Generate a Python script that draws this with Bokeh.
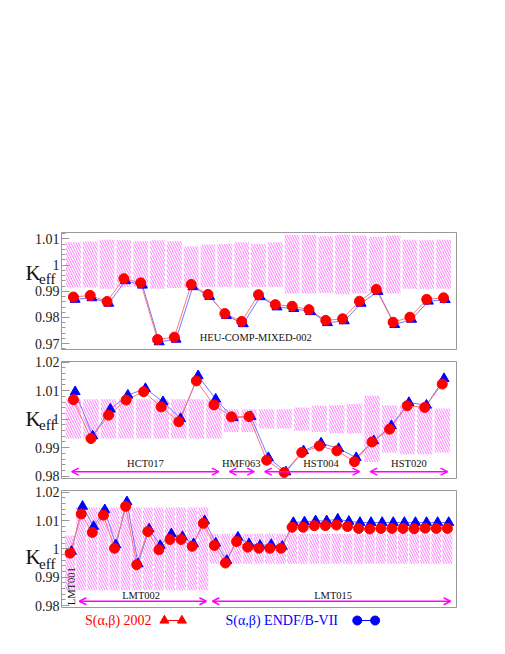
import numpy as np
from bokeh.plotting import figure
from bokeh.layouts import column
from bokeh.models import (Range1d, FixedTicker, NumeralTickFormatter, Label, Arrow, OpenHead)
from bokeh.core.properties import value
from bokeh.embed import file_html
from bokeh.resources import INLINE

SERIF = "Liberation Serif"
MAG = "#ff00ff"
RED = "#ff0000"
BLUE = "#0000ff"

# ---------------- Panel 1: HEU-COMP-MIXED-002 ----------------
p1_idx = list(range(1, 24))
p1_red = [0.9878, 0.9884, 0.9861, 0.9948, 0.9932, 0.9716, 0.9725, 0.9926, 0.9888, 0.9815,
          0.9785, 0.9887, 0.9849, 0.9843, 0.9830, 0.9789, 0.9795, 0.9862, 0.9907, 0.9782,
          0.9801, 0.9869, 0.9875]
p1_blue = [0.9869, 0.9875, 0.9854, 0.9940, 0.9923, 0.9707, 0.9717, 0.9917, 0.9880, 0.9807,
           0.9776, 0.9879, 0.9840, 0.9834, 0.9822, 0.9780, 0.9787, 0.9854, 0.9899, 0.9773,
           0.9793, 0.9862, 0.9868]
p1_unc_top = [1.0087, 1.0090, 1.0096, 1.0094, 1.0091, 1.0094, 1.0091, 1.0071, 1.0078, 1.0080,
              1.0087, 1.0080, 1.0087, 1.0115, 1.0115, 1.0110, 1.0115, 1.0113, 1.0108, 1.0113,
              1.0096, 1.0094, 1.0096]
p1_unc_bot = [0.9914, 0.9914, 0.9910, 0.9916, 0.9916, 0.9910, 0.9912, 0.9914, 0.9916, 0.9916,
              0.9914, 0.9916, 0.9916, 0.9891, 0.9891, 0.9893, 0.9889, 0.9891, 0.9891, 0.9891,
              0.9910, 0.9910, 0.9910]
p1_yticks = [0.97, 0.98, 0.99, 1.00, 1.01]
p1_group = ["HEU-COMP-MIXED-002"]
p1_group_x = [11.84]
p1_group_y = [0.9723]

# ---------------- Panel 2: HCT017 / HMF063 / HST004 / HST020 ----------------
p2_idx = list(range(1, 23))
p2_red = [1.0068, 0.9932, 1.0014, 1.0067, 1.0096, 1.0043, 0.9991, 1.0134, 1.0050, 1.0008,
          1.0009, 0.9856, 0.9813, 0.9883, 0.9906, 0.9889, 0.9851, 0.9920, 0.9965, 1.0047,
          1.0041, 1.0123]
p2_blue = [1.0096, 0.9941, 1.0035, 1.0084, 1.0107, 1.0061, 1.0002, 1.0152, 1.0070, 1.0005,
           1.0009, 0.9865, 0.9815, 0.9889, 0.9916, 0.9897, 0.9865, 0.9924, 0.9977, 1.0058,
           1.0049, 1.0142]
p2_unc_top = [1.0070] * 9 + [1.0035, 1.0035, 1.0035, 1.0035, 1.0041, 1.0047, 1.0049, 1.0053,
                             1.0082, 1.0049, 1.0047, 1.0047, 1.0037]
p2_unc_bot = [0.9932] * 9 + [0.9955, 0.9955, 0.9967, 0.9967, 0.9959, 0.9955, 0.9951, 0.9951,
                             0.9850, 0.9883, 0.9877, 0.9877, 0.9883]
p2_yticks = [0.98, 0.99, 1.00, 1.01, 1.02]
p2_group = ["HCT017", "HMF063", "HST004", "HST020"]
p2_group_x = [5.1, 10.55, 15.1, 20.1]
p2_group_y = [0.9846] * 4
p2_arrow_start = [0.90, 9.88, 11.89, 17.90]
p2_arrow_end = [9.28, 11.29, 17.29, 22.30]
p2_arrow_y = 0.9816

# ---------------- Panel 3: LMT001 / LMT002 / LMT015 ----------------
p3_idx = list(range(1, 36))
p3_red = [0.9985, 1.0123, 1.0058, 1.0119, 1.0002, 1.0150, 0.9944, 1.0061, 0.9997, 1.0033,
          1.0033, 1.0009, 1.0090, 1.0012, 0.9950, 1.0026, 1.0006, 1.0002, 1.0002, 1.0002,
          1.0076, 1.0076, 1.0082, 1.0082, 1.0084, 1.0079, 1.0072, 1.0070, 1.0072, 1.0072,
          1.0072, 1.0071, 1.0073, 1.0072, 1.0072]
p3_blue = [0.9991, 1.0150, 1.0079, 1.0138, 1.0014, 1.0166, 0.9947, 1.0070, 1.0012, 1.0053,
           1.0043, 1.0018, 1.0099, 1.0020, 0.9959, 1.0041, 1.0018, 1.0012, 1.0015, 1.0009,
           1.0093, 1.0095, 1.0099, 1.0099, 1.0105, 1.0097, 1.0093, 1.0093, 1.0093, 1.0093,
           1.0093, 1.0093, 1.0093, 1.0093, 1.0093]
p3_unc_top = [1.0047] + [1.0146] * 12 + [1.0053] * 22
p3_unc_bot = [0.9854] + [0.9854] * 12 + [0.9947] * 22
p3_yticks = [0.98, 0.99, 1.00, 1.01, 1.02]
p3_group = ["LMT002", "LMT015"]
p3_group_x = [7.4, 24.7]
p3_group_y = [0.9836, 0.9836]
p3_arrow_start = [1.83, 13.82]
p3_arrow_end = [13.28, 35.29]
p3_arrow_y = 0.9815
p3_vgroup = ["LMT001"]
p3_vgroup_x = [1.1]
p3_vgroup_y = [0.9868]

legend_red = "S(\u03b1,\u03b2) 2002"
legend_blue = "S(\u03b1,\u03b2) ENDF/B-VII"

W = 490
BL = 58
BR = W - 456


def make_panel(xr, yr, yticks, height, top, bottom, idx, red, blue, utop, ubot, bw,
               k_off, eff_off, blue_shift):
    p = figure(width=W, height=height, x_range=Range1d(*xr), y_range=Range1d(*yr),
               output_backend="svg", toolbar_location=None, x_axis_location=None,
               min_border_left=BL, min_border_right=BR,
               min_border_top=top, min_border_bottom=bottom)
    p.xgrid.visible = False
    p.ygrid.visible = False
    p.outline_line_color = "#999999"
    p.background_fill_color = "white"
    p.border_fill_color = "white"

    minor = [round(v, 4) for v in np.arange(0.96, 1.03, 0.002)]
    p.yaxis.ticker = FixedTicker(ticks=yticks, minor_ticks=minor)
    p.yaxis.formatter = NumeralTickFormatter(format="0.[00]")
    p.yaxis.major_label_text_font = SERIF
    p.yaxis.major_label_text_font_size = "14px"
    p.yaxis.major_label_text_color = "#222222"
    p.yaxis.major_label_standoff = 2
    p.yaxis.axis_line_color = None
    p.yaxis.major_tick_in = 8
    p.yaxis.major_tick_out = 0
    p.yaxis.minor_tick_in = 4
    p.yaxis.minor_tick_out = 0
    p.yaxis.major_tick_line_color = "#999999"
    p.yaxis.minor_tick_line_color = "#999999"

    bx = [i + blue_shift for i in idx]
    p.vbar(x=idx, top=utop, bottom=ubot, width=bw, fill_alpha=0, line_alpha=0,
           hatch_pattern="\\", hatch_color="#ff33ff", hatch_scale=5, hatch_weight=1,
           hatch_alpha=0.65)
    p.line(bx, blue, line_color="#7777ff", line_width=1)
    p.line(idx, red, line_color="#ff7777", line_width=1)
    p.scatter(bx, blue, marker="triangle", size=10, fill_color=BLUE, line_color=BLUE)
    p.scatter(idx, red, marker="circle", size=10, fill_color=RED, line_color=RED)

    p.add_layout(Label(x=xr[0], y=1.0, x_offset=-36, y_offset=k_off, text="K",
                       text_font=SERIF, text_font_size="21px", text_color="#111111",
                       text_baseline="alphabetic"), "left")
    p.add_layout(Label(x=xr[0], y=1.0, x_offset=-22.5, y_offset=eff_off, text="eff",
                       text_font=SERIF, text_font_size="15px", text_color="#111111",
                       text_baseline="alphabetic"), "left")
    return p


def add_groups(p, names, gx, gy):
    p.text(x=gx, y=gy, text=names, text_font=value(SERIF), text_font_size="10.5px",
           text_align="center", text_baseline="middle", text_color="#111111")


def add_arrows(p, xs, xe, y):
    for a, b in zip(xs, xe):
        p.add_layout(Arrow(start=OpenHead(size=7, line_color=MAG, line_width=1.5),
                           end=OpenHead(size=7, line_color=MAG, line_width=1.5),
                           x_start=a, y_start=y, x_end=b, y_end=y,
                           line_color=MAG, line_width=1.5))


p1 = make_panel((0.292, 23.77), (0.9678, 1.0124), p1_yticks, 355, 232, 6,
                p1_idx, p1_red, p1_blue, p1_unc_top, p1_unc_bot, 0.88, -7.5, -13.5, 0.1)
add_groups(p1, p1_group, p1_group_x, p1_group_y)

p2 = make_panel((0.322, 22.81), (0.9792, 1.0202), p2_yticks, 129, 6, 6,
                p2_idx, p2_red, p2_blue, p2_unc_top, p2_unc_bot, 0.88, 0, -6, 0.1)
add_groups(p2, p2_group, p2_group_x, p2_group_y)
add_arrows(p2, p2_arrow_start, p2_arrow_end, p2_arrow_y)

p3 = make_panel((0.222, 35.82), (0.9793, 1.0206), p3_yticks, 130, 6, 7,
                p3_idx, p3_red, p3_blue, p3_unc_top, p3_unc_bot, 0.9, -8.4, -14.7, 0.12)
add_groups(p3, p3_group, p3_group_x, p3_group_y)
add_arrows(p3, p3_arrow_start, p3_arrow_end, p3_arrow_y)
p3.text(x=p3_vgroup_x, y=p3_vgroup_y, text=p3_vgroup, angle=np.pi / 2,
        text_font=value(SERIF), text_font_size="10.5px", text_align="center",
        text_baseline="middle", text_color="#111111")

# ---------------- legend strip (page coordinates: frame spans x 58..456, y 614..644) ----------------
pl = figure(width=W, height=30, x_range=Range1d(BL, 456), y_range=Range1d(644, 614),
            output_backend="svg", toolbar_location=None,
            min_border_left=BL, min_border_right=BR, min_border_top=0, min_border_bottom=0,
            x_axis_location=None, y_axis_location=None)
pl.xgrid.visible = False
pl.ygrid.visible = False
pl.outline_line_color = None
ly = 620.0
pl.text(x=[81.7], y=[ly], text=[legend_red], text_font=value(SERIF), text_font_size="14px",
        text_align="left", text_baseline="middle", text_color=RED)
pl.line([161.7, 179.3], [ly, ly], line_color=RED, line_width=1)
pl.scatter([161.7, 179.3], [ly, ly], marker="triangle", size=9, color=RED)
pl.text(x=[223.3], y=[ly], text=[legend_blue], text_font=value(SERIF), text_font_size="14px",
        text_align="left", text_baseline="middle", text_color=BLUE)
pl.line([356, 374], [ly, ly], line_color=BLUE, line_width=1)
pl.scatter([356, 374], [ly, ly], marker="circle", size=9, color=BLUE)

layout = column(p1, p2, p3, pl, spacing=0)
open("out.html", "w").write(file_html(layout, INLINE))
